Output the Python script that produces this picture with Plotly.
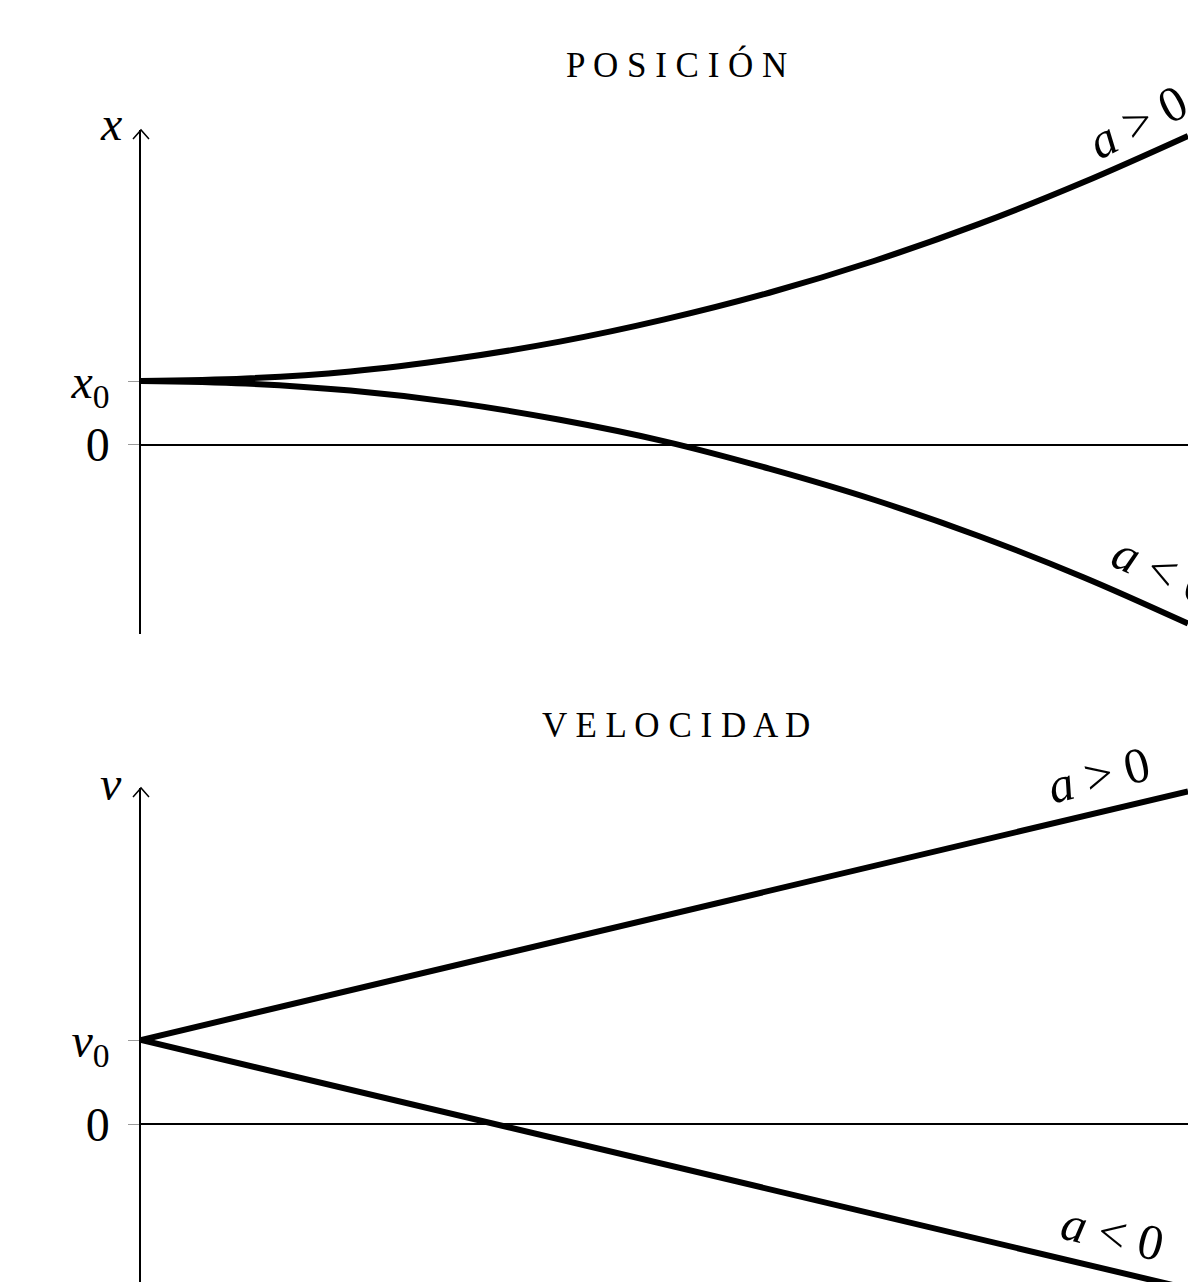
import plotly.graph_objects as go

# ---- data ----
t_pos = [0, 1, 2, 3, 4, 5, 6, 7, 8, 9, 10]
x_pos_acc = [1.0, 1.04, 1.15, 1.35, 1.62, 1.97, 2.39, 2.89, 3.47, 4.13, 4.86]
x_neg_acc = [1.0, 0.96, 0.85, 0.66, 0.39, 0.05, -0.38, -0.87, -1.44, -2.09, -2.82]

t_vel = [0, 10]
v_pos_acc = [1.0, 3.96]
v_neg_acc = [1.0, -1.96]

pos_ticks = [0, 1]
pos_ticktext = ["0", "<i>x</i><sub>0</sub>"]
vel_ticks = [0, 1]
vel_ticktext = ["0", "<i>v</i><sub>0</sub>"]

titles = ["P O S I C I Ó N", "V E L O C I D A D"]
label_pos = "<i>a</i> &gt; 0"
label_neg = "<i>a</i> &lt; 0"

W, H = 1188, 1282
FONT = "Liberation Serif"

fig = go.Figure()
line_style = dict(color="black", width=6)
fig.add_trace(go.Scatter(x=t_pos, y=x_pos_acc, mode="lines", line=dict(shape="spline", **line_style),
                         xaxis="x", yaxis="y", hoverinfo="skip"))
fig.add_trace(go.Scatter(x=t_pos, y=x_neg_acc, mode="lines", line=dict(shape="spline", **line_style),
                         xaxis="x", yaxis="y", hoverinfo="skip"))
fig.add_trace(go.Scatter(x=t_vel, y=v_pos_acc, mode="lines", line=line_style,
                         xaxis="x2", yaxis="y2", hoverinfo="skip"))
fig.add_trace(go.Scatter(x=t_vel, y=v_neg_acc, mode="lines", line=line_style,
                         xaxis="x2", yaxis="y2", hoverinfo="skip"))

xdom = [141 / W, 1.0]
top_dom = [1 - 634 / H, 1 - 130 / H]
bot_dom = [0.0, 1 - 788 / H]

yax_common = dict(
    showline=True, linecolor="black", linewidth=1.5,
    zeroline=True, zerolinecolor="black", zerolinewidth=1.5,
    showgrid=False, ticks="outside", ticklen=11, tickcolor="#9a9a9a", tickwidth=1.2,
    tickfont=dict(family=FONT, size=48, color="black"), ticklabelstandoff=9,
    fixedrange=True,
)
xax_common = dict(visible=False, range=[0, 10], domain=xdom, fixedrange=True)

fig.update_layout(
    width=W, height=H,
    margin=dict(l=0, r=0, t=0, b=0),
    paper_bgcolor="white", plot_bgcolor="white",
    showlegend=False,
    xaxis=dict(anchor="y", **xax_common),
    yaxis=dict(anchor="x", domain=top_dom, range=[-2.984, 4.953],
               tickvals=pos_ticks, ticktext=pos_ticktext, **yax_common),
    xaxis2=dict(anchor="y2", **xax_common),
    yaxis2=dict(anchor="x2", domain=bot_dom, range=[-1.881, 4.0],
                tickvals=vel_ticks, ticktext=vel_ticktext, **yax_common),
)

# arrowheads at the top of the vertical axes
for ytop_px in [130, 788]:
    fig.add_shape(type="path", xref="paper", yref="paper", xsizemode="pixel", ysizemode="pixel",
                  xanchor=141 / W, yanchor=1 - ytop_px / H, path="M -8,-9 L 0,0 L 8,-9",
                  line=dict(color="black", width=1.5))

ann_font = dict(family=FONT, size=50, color="black")
anns = [
    dict(text=titles[0], x=676 / W, y=1 - 65 / H, font=dict(family=FONT, size=35, color="black")),
    dict(text=titles[1], x=676 / W, y=1 - 725 / H, font=dict(family=FONT, size=35, color="black")),
    dict(text="<i>x</i>", x=124 / W, y=1 - 124 / H, xanchor="right",
         font=dict(family=FONT, size=48, color="black")),
    dict(text="<i>v</i>", x=124 / W, y=1 - 783 / H, xanchor="right",
         font=dict(family=FONT, size=48, color="black")),
    dict(text=label_pos, x=1137 / W, y=1 - 122 / H, textangle=-27, font=ann_font),
    dict(text=label_neg, x=1162 / W, y=1 - 570 / H, textangle=24, font=ann_font),
    dict(text=label_pos, x=1098 / W, y=1 - 775 / H, textangle=-14, font=ann_font),
    dict(text=label_neg, x=1112 / W, y=1 - 1233 / H, textangle=13, font=ann_font),
]
for a in anns:
    a.setdefault("xref", "paper")
    a.setdefault("yref", "paper")
    a.setdefault("showarrow", False)
    a.setdefault("xanchor", "center")
    a.setdefault("yanchor", "middle")
    fig.add_annotation(**a)

fig.write_html("out.html", config={"displayModeBar": False},
               post_script="document.body.style.margin='0';document.body.style.overflow='hidden';")
